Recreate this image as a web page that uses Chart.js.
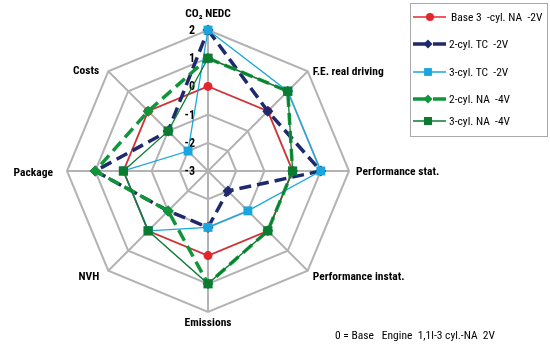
<!DOCTYPE html>
<html>
<head>
<meta charset="utf-8">
<script src="https://cdn.jsdelivr.net/npm/chart.js@4/dist/chart.umd.min.js"></script>
<style>
  body { margin: 0; background: #fff; }
  #wrap { position: relative; width: 550px; height: 344px; font-family: "Roboto Condensed", "Liberation Sans Narrow", sans-serif; }
  #note { position: absolute; left: 335px; top: 328px; font-size: 11.5px; color: #000; white-space: pre; }
  #legend { position: absolute; left: 410px; top: 3px; width: 136px; height: 132px; border: 1.5px solid #a9a9a9; }
  #legend .row { position: absolute; left: 2px; height: 14px; font-size: 11.5px; line-height: 14px; color: #000; white-space: pre; }
  #legend svg { position: absolute; left: 0; top: 0; }
  #legend span { position: absolute; left: 36px; top: 0; }
</style>
</head>
<body>
<div id="wrap">
  <canvas id="chart_engineRadar"></canvas>
  <div id="legend"></div>
  <div id="note">0 = Base   Engine  1,1l-3 cyl.-NA  2V</div>
</div>
<script>
var categories = ['CO\u2082 NEDC', 'F.E. real driving', 'Performance stat.', 'Performance instat.', 'Emissions', 'NVH', 'Package', 'Costs'];
var tickValues = [-3, -2, -1, 0, 1, 2];

var base3cylNA2V = [0, 0, 0, 0, 0, 0, 0, 0];
var cyl2TC2V = [2, 0, 1, -2, -1, -1, 1, -1];
var cyl3TC2V = [2, 1, 1, -1, -1, 0, 0, -2];
var cyl2NA4V = [1, 1, 0, 0, 1, -1, 1, 0];
var cyl3NA4V = [1, 1, 0, 0, 1, 0, 0, -1];

var FONT = '"Roboto Condensed", "Liberation Sans Narrow", sans-serif';

var series = [
    { label: 'Base 3  -cyl. NA  -2V', data: base3cylNA2V, color: '#e3262d', width: 1.5, dash: [], style: 'circle', radius: 4.5 },
    { label: '2-cyl. TC  -2V', data: cyl2TC2V, color: '#1f2a6d', width: 3.5, dash: [12, 6], style: 'rectRot', radius: 5.5 },
    { label: '3-cyl. TC  -2V', data: cyl3TC2V, color: '#19a6de', width: 1.3, dash: [], style: 'rect', radius: 6.3 },
    { label: '2-cyl. NA  -4V', data: cyl2NA4V, color: '#11953b', width: 3.5, dash: [12, 6], style: 'rectRot', radius: 5.5 },
    { label: '3-cyl. NA  -4V', data: cyl3NA4V, color: '#0b7b32', width: 1.3, dash: [], style: 'rect', radius: 6.5 }
];

// legend rows (y of each row inside the box)
var legendRowTop = [6, 33, 61, 88, 110];

// point label offsets from the outer vertex [dx, dy]
var labelOffsets = [[0, -16], [5, 1], [7, 1], [5, 6], [0, 11], [-9, 6], [-14, 2], [-9, 0]];

function markerSvg(s) {
    var m = '';
    if (s.style === 'circle') {
        m = '<circle cx="17" cy="7" r="4" fill="' + s.color + '"/>';
    } else if (s.style === 'rect') {
        var h = s.radius * 0.62;
        m = '<rect x="' + (15 - h) + '" y="' + (7 - h) + '" width="' + (2 * h) + '" height="' + (2 * h) + '" fill="' + s.color + '"/>';
    } else {
        m = '<polygon points="15,2.5 19.5,7 15,11.5 10.5,7" fill="' + s.color + '"/>';
    }
    var dash = s.dash.length ? ' stroke-dasharray="15 5"' : '';
    return '<svg width="34" height="14"><line x1="0" y1="7" x2="33" y2="7" stroke="' + s.color + '" stroke-width="' + s.width + '"' + dash + '/>' + m + '</svg>';
}

var legendEl = document.getElementById('legend');
series.forEach(function (s, i) {
    var row = document.createElement('div');
    row.className = 'row';
    row.style.top = legendRowTop[i] + 'px';
    row.innerHTML = markerSvg(s) + '<span' + (i === 0 ? ' style="left:38px"' : '') + '>' + s.label + '</span>';
    legendEl.appendChild(row);
});

var chart_engineRadar = new Chart(document.getElementById('chart_engineRadar'), {
    type: 'radar',
    data: {
        labels: categories,
        datasets: series.map(function (s, i) {
            return {
                label: s.label,
                data: s.data,
                order: series.length - i,
                fill: false,
                borderColor: s.color,
                backgroundColor: s.color,
                borderWidth: s.width,
                borderDash: s.dash,
                pointStyle: s.style,
                pointRadius: s.radius,
                pointBorderWidth: 0,
                pointBackgroundColor: s.color,
                tension: 0
            };
        })
    },
    options: {
        animation: false,
        responsive: true,
        maintainAspectRatio: false,
        layout: {
            padding: { top: 30, bottom: 32, left: 67, right: 201 }
        },
        plugins: {
            tooltip: { enabled: false },
            legend: { display: false }
        },
        scales: {
            r: {
                min: -3,
                max: 2,
                ticks: { stepSize: 1, display: false },
                grid: { color: '#b3b3b3', lineWidth: 2 },
                angleLines: { color: '#b3b3b3', lineWidth: 2 },
                pointLabels: { display: false }
            }
        }
    },
    plugins: [{
        id: 'radarTexts',
        beforeDatasetsDraw: function (chart) {
            // value ticks left of the vertical axis, under the lines
            var ctx = chart.ctx;
            var scale = chart.scales.r;
            ctx.save();
            ctx.fillStyle = '#000';
            ctx.textBaseline = 'middle';
            ctx.font = 'bold 12px ' + FONT;
            ctx.textAlign = 'right';
            tickValues.forEach(function (v) {
                var d = scale.getDistanceFromCenterForValue(v);
                ctx.fillText(String(v), scale.xCenter - 13, scale.yCenter - d + 1);
            });
            ctx.restore();
        },
        afterDatasetsDraw: function (chart) {
            // category labels at the outer vertices
            var ctx = chart.ctx;
            var scale = chart.scales.r;
            ctx.save();
            ctx.fillStyle = '#000';
            ctx.textBaseline = 'middle';
            ctx.font = 'bold 11.5px ' + FONT;
            categories.forEach(function (c, i) {
                var p = scale.getPointPosition(i, scale.drawingArea);
                var off = labelOffsets[i];
                ctx.textAlign = off[0] > 0 ? 'left' : (off[0] < 0 ? 'right' : 'center');
                ctx.fillText(c, p.x + off[0], p.y + off[1]);
            });
            ctx.restore();
        }
    }]
});
</script>
</body>
</html>
